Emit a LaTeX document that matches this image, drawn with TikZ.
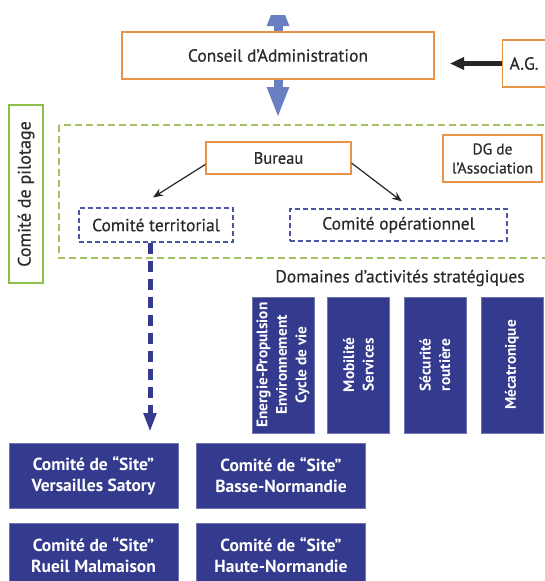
\documentclass[tikz,border=0pt]{standalone}
\usepackage{fontspec}
\setmainfont{PT Sans}
\newfontfamily\medfont{PT Sans}[FakeBold=0.5]
\usetikzlibrary{arrows.meta,calc}
\definecolor{orangeb}{HTML}{E8924A}
\definecolor{greenb}{HTML}{A3C062}
\definecolor{greenp}{HTML}{8CBF4A}
\definecolor{blued}{HTML}{4C55A5}
\definecolor{navy}{HTML}{343B8F}
\definecolor{lightblue}{HTML}{6A7EC2}
\definecolor{txt}{HTML}{2A2A2A}
\begin{document}
\begin{tikzpicture}[x=1pt,y=-1pt,
  orangebox/.style={draw=orangeb,line width=1.2pt,fill=white,text=txt,inner sep=0pt,align=center,font=\medfont\fontsize{17.5}{20}\selectfont},
  dashbox/.style={draw=blued,line width=1.1pt,dash pattern=on 5pt off 3pt,fill=white,text=txt,inner sep=0pt,font=\medfont\fontsize{17.5}{20}\selectfont},
  domainbox/.style={fill=navy,draw=navy!70,line width=0.4pt,text=white,minimum width=136pt,minimum height=62pt,inner sep=0pt,rotate=90,align=center,font=\bfseries\fontsize{15.3}{19.5}\selectfont},
  sitebox/.style={fill=navy,draw=navy!70,line width=0.4pt,text=white,minimum width=169pt,minimum height=65pt,inner sep=0pt,align=center,font=\bfseries\fontsize{17.5}{21}\selectfont},
  bluearrow/.style={draw=lightblue,line width=9pt,-{Triangle[length=31pt,width=20pt]}},
  blackarrow/.style={draw=black!85,line width=1.2pt,-{Stealth[length=10pt,width=8pt]}},
]
\useasboundingbox (0,0) rectangle (545,581);
\fill[white] (0,0) rectangle (545,581);

% green dashed frame
\draw[greenb,line width=1.2pt,dash pattern=on 7pt off 4pt] (59,125) rectangle (570,258);

% top
\node[orangebox,minimum width=312pt,minimum height=47pt] (conseil) at (278,55.5) {Conseil d’Administration};
\node[orangebox,anchor=west,minimum width=70pt,minimum height=47pt,align=left,inner xsep=7pt,text width=56pt] (ag) at (502,63.5) {A.G.};
\coordinate (catop) at (278,-5);
\coordinate (cabot) at (278,118);
\begin{scope}
  \clip (0,15) rectangle (545,581);
  \draw[bluearrow] (conseil.north) -- (catop);
\end{scope}
\draw[bluearrow] (conseil.south) -- (cabot);
\draw[draw=black!85,line width=5pt,-{Triangle[length=14pt,width=12pt]}] (ag.west) -- ++(-52,0);

% pilotage
\node[draw=greenp,line width=1.2pt,rotate=90,minimum width=178pt,minimum height=34pt,inner sep=0pt,text=txt,font=\medfont\fontsize{18}{20}\selectfont] (pilot) at (26,194) {Comité de pilotage};

% bureau etc
\node[orangebox,minimum width=145pt,minimum height=32pt,font=\medfont\fontsize{16.5}{20}\selectfont] (bureau) at (278.5,158) {Bureau};
\node[orangebox,minimum width=99pt,minimum height=47pt,font=\medfont\fontsize{15.5}{19}\selectfont] (dg) at (492.5,158.5) {DG de\\l’Association};
\node[dashbox,minimum width=154pt,minimum height=34pt] (terr) at (156,225) {Comité territorial};
\node[dashbox,minimum width=217pt,minimum height=32pt] (oper) at (398.5,225) {Comité opérationnel};
\draw[blackarrow] (bureau.185.5) -- ($(terr.north)+(-3,-10)$);
\draw[blackarrow] (bureau.-4) -- ($(oper.north)+(3.5,-7)$);

% dashed thick arrow
\coordinate (terrend) at (150,432);
\draw[navy,line width=5pt,dash pattern=on 11pt off 7pt,-{Triangle[length=19pt,width=12pt]}] ($(terr.south)+(-6,0)$) -- (terrend);

% domaines
\node[text=txt,font=\medfont\fontsize{17.5}{20}\selectfont] (domt) at (400,278) {Domaines d’activités stratégiques};
\node[domainbox] (d1) at (283,365) {Energie-Propulsion\\Environnement\\Cycle de vie};
\node[domainbox] (d2) at (358.5,365) {Mobilité\\Services};
\node[domainbox] (d3) at (435,365) {Sécurité\\routière};
\node[domainbox] (d4) at (512,365) {Mécatronique};

% sites
\node[sitebox] (s1) at (93.5,475.5) {Comité de “Site”\\Versailles Satory};
\node[sitebox] (s2) at (281,475.5) {Comité de “Site”\\Basse-Normandie};
\node[sitebox] (s3) at (93.5,555.5) {Comité de “Site”\\Rueil Malmaison};
\node[sitebox] (s4) at (281,555.5) {Comité de “Site”\\Haute-Normandie};
\end{tikzpicture}
\end{document}
